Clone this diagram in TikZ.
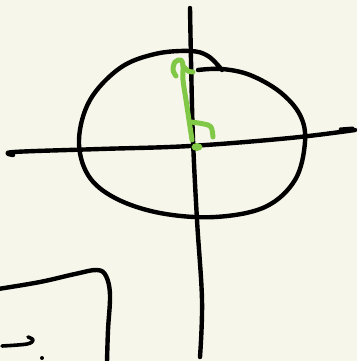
\documentclass[tikz,border=0pt]{standalone}
\begin{document}
\begin{tikzpicture}[x=1pt,y=-1pt,
  ink/.style={line width=4.4pt,line cap=round,line join=round,draw=black},
  gink/.style={line width=5pt,line cap=round,line join=round,draw=grn}]
\definecolor{bg}{HTML}{F7F6EA}
\definecolor{grn}{HTML}{80C846}
\fill[bg] (0,0) rectangle (357,361);
\useasboundingbox (0,0) rectangle (357,361);
% vertical axis
\draw[ink] plot[smooth,tension=0.6] coordinates {(190,8) (191,60) (193,140) (197,220) (202,300) (200,357)};
% horizontal axis
\draw[ink] plot[smooth,tension=0.6] coordinates {(13,155) (14,152) (100,149) (190,146) (290,138) (355,130)};
\draw[ink,line width=3pt] (340,129) -- (353,128) -- (343,132);
% ellipse (two strokes)
\draw[ink] plot[smooth,tension=0.6] coordinates {(198,70) (222,69) (250,75) (280,92) (300,115) (305,142) (295,180) (265,207) (215,217) (160,213) (115,198) (88,175) (79,140) (90,100) (120,68) (155,54) (190,51) (208,56) (222,70)};
% green arrow
\draw[gink] plot[smooth,tension=0.55] coordinates {(192,140) (189,120) (186,100) (183,80) (183,66) (181,60) (175,62) (173,70) (176,76)};
\draw[gink] plot[smooth,tension=0.5] coordinates {(183,66) (188,71) (193,72)};
\draw[gink] plot[smooth,tension=0.6] coordinates {(191,122) (204,124) (211,127) (213,137)};
\fill[grn] (197,147) ellipse (5.5 and 4);
% bottom-left shape
\draw[ink] plot[smooth,tension=0.6] coordinates {(-2,289) (40,282) (75,274) (97,270) (106,276) (110,295) (108,330) (107,362)};
\draw[ink,line width=3.6pt] plot[smooth,tension=0.6] coordinates {(2,346) (27,344) (33,340) (28,337)};
\fill[black] (42,358) circle (2);
\end{tikzpicture}
\end{document}
